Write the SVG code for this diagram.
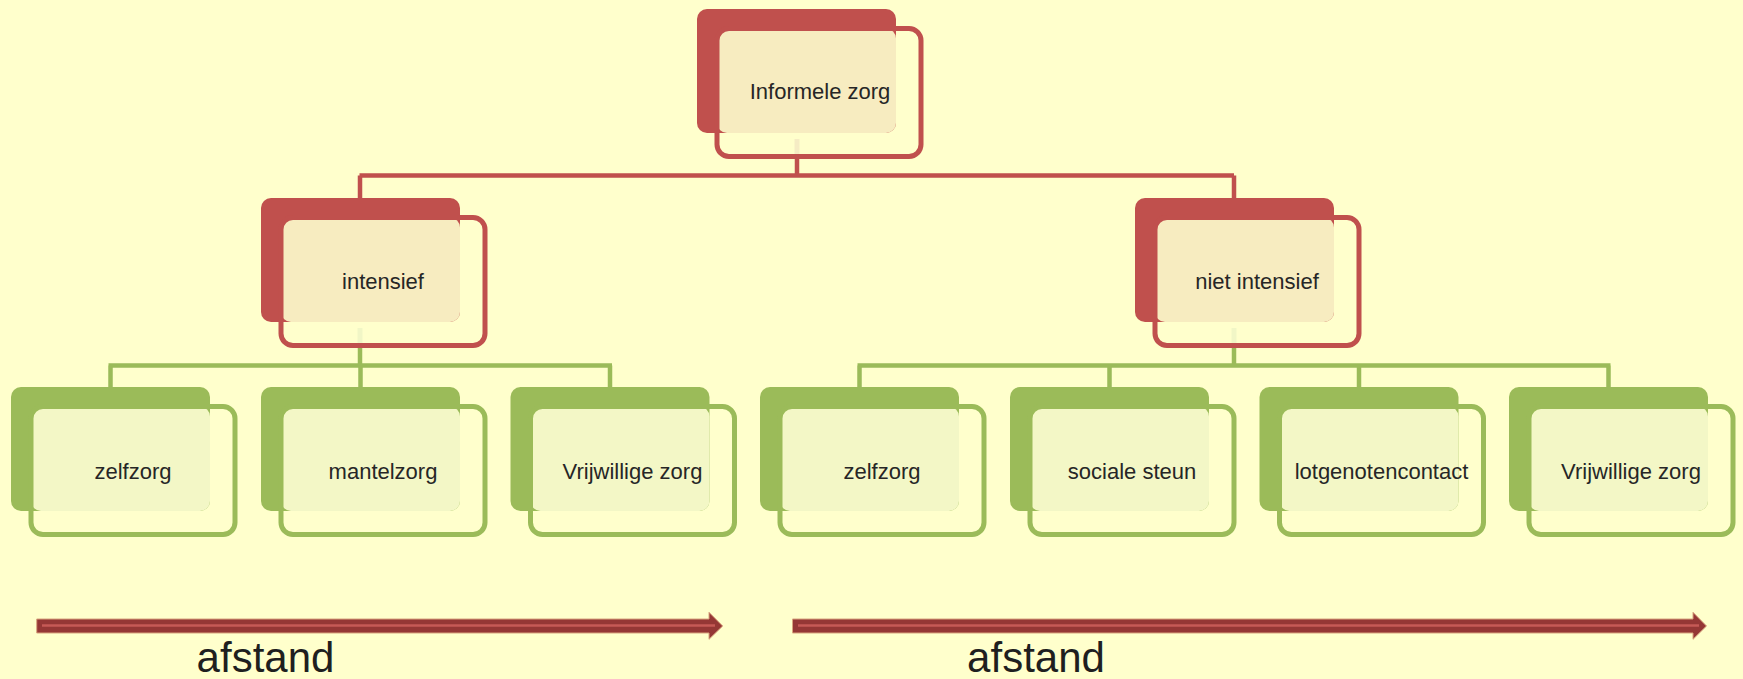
<svg xmlns="http://www.w3.org/2000/svg" width="1743" height="679" viewBox="0 0 1743 679">
<style>
.bg{fill:#ffffcc}
.red .back{fill:#c0504d}
.red .light{fill:#f7ecc0}
.red .front{fill:none;stroke:#c0504d;stroke-width:5}
.green .back{fill:#9bbb59}
.green .light{fill:#f3f7c6}
.green .front{fill:none;stroke:#9bbb59;stroke-width:5}
.lbl{font-family:"Liberation Sans",Arial,sans-serif;font-size:22px;fill:#262626;text-anchor:middle}
.big{font-family:"Liberation Sans",Arial,sans-serif;font-size:42px;fill:#1f1f1f;text-anchor:middle}
.cr{stroke:#c0504d;stroke-width:4.5;fill:none}
.cg{stroke:#9bbb59;stroke-width:4.5;fill:none}
.fr{stroke:#f5ecc4;stroke-width:5;fill:none}
.fg{stroke:#f1f6c6;stroke-width:5;fill:none}
.arrow{fill:#953735;stroke:#d9a47e;stroke-width:1}
.stripe{stroke:#c65a56;stroke-width:2.5}
</style>
<rect class="bg" x="0" y="0" width="1743" height="679"/>

<g id="connectors">
  <line class="fr" x1="797" y1="139" x2="797" y2="157"/>
  <path class="cr" d="M797,157 V175.5 M359.5,175.5 H1234 M360,175.5 V198 M1234,175.5 V198"/>
  <line class="fg" x1="360" y1="328" x2="360" y2="346"/>
  <line class="fg" x1="1234" y1="328" x2="1234" y2="346"/>
  <path class="cg" d="M360,346 V365.5 M108.5,365.5 H612 M110.5,365.5 V387 M360.5,365.5 V387 M610,365.5 V387"/>
  <path class="cg" d="M1234,346 V365.5 M857.5,365.5 H1610.5 M859.5,365.5 V387 M1109.5,365.5 V387 M1359,365.5 V387 M1608.5,365.5 V387"/>
</g>

<g id="n-informele-zorg" class="red">
  <rect class="back" x="697" y="9" width="199" height="124" rx="10"/>
  <rect class="light" x="717" y="28.5" width="179" height="104.5" rx="10"/>
  <rect class="front" x="717" y="28.5" width="204" height="128" rx="12"/>
  <text class="lbl" x="820" y="99">Informele zorg</text>
</g>
<g id="n-intensief" class="red">
  <rect class="back" x="261" y="198" width="199" height="124" rx="10"/>
  <rect class="light" x="281" y="217.5" width="179" height="104.5" rx="10"/>
  <rect class="front" x="281" y="217.5" width="204" height="128" rx="12"/>
  <text class="lbl" x="383" y="289">intensief</text>
</g>
<g id="n-niet-intensief" class="red">
  <rect class="back" x="1135" y="198" width="199" height="124" rx="10"/>
  <rect class="light" x="1155" y="217.5" width="179" height="104.5" rx="10"/>
  <rect class="front" x="1155" y="217.5" width="204" height="128" rx="12"/>
  <text class="lbl" x="1257" y="288.5">niet intensief</text>
</g>

<g id="n-zelfzorg-1" class="green">
  <rect class="back" x="11" y="387" width="199" height="124" rx="10"/>
  <rect class="light" x="31" y="406.5" width="179" height="104.5" rx="10"/>
  <rect class="front" x="31" y="406.5" width="204" height="128" rx="12"/>
  <text class="lbl" x="133" y="478.5">zelfzorg</text>
</g>
<g id="n-mantelzorg" class="green">
  <rect class="back" x="261" y="387" width="199" height="124" rx="10"/>
  <rect class="light" x="281" y="406.5" width="179" height="104.5" rx="10"/>
  <rect class="front" x="281" y="406.5" width="204" height="128" rx="12"/>
  <text class="lbl" x="383" y="478.5">mantelzorg</text>
</g>
<g id="n-vrijwillige-zorg-1" class="green">
  <rect class="back" x="510.5" y="387" width="199" height="124" rx="10"/>
  <rect class="light" x="530.5" y="406.5" width="179" height="104.5" rx="10"/>
  <rect class="front" x="530.5" y="406.5" width="204" height="128" rx="12"/>
  <text class="lbl" x="632.5" y="478.5">Vrijwillige zorg</text>
</g>
<g id="n-zelfzorg-2" class="green">
  <rect class="back" x="760" y="387" width="199" height="124" rx="10"/>
  <rect class="light" x="780" y="406.5" width="179" height="104.5" rx="10"/>
  <rect class="front" x="780" y="406.5" width="204" height="128" rx="12"/>
  <text class="lbl" x="882" y="478.5">zelfzorg</text>
</g>
<g id="n-sociale-steun" class="green">
  <rect class="back" x="1010" y="387" width="199" height="124" rx="10"/>
  <rect class="light" x="1030" y="406.5" width="179" height="104.5" rx="10"/>
  <rect class="front" x="1030" y="406.5" width="204" height="128" rx="12"/>
  <text class="lbl" x="1132" y="478.5">sociale steun</text>
</g>
<g id="n-lotgenotencontact" class="green">
  <rect class="back" x="1259.5" y="387" width="199" height="124" rx="10"/>
  <rect class="light" x="1279.5" y="406.5" width="179" height="104.5" rx="10"/>
  <rect class="front" x="1279.5" y="406.5" width="204" height="128" rx="12"/>
  <text class="lbl" x="1381.5" y="478.5">lotgenotencontact</text>
</g>
<g id="n-vrijwillige-zorg-2" class="green">
  <rect class="back" x="1509" y="387" width="199" height="124" rx="10"/>
  <rect class="light" x="1529" y="406.5" width="179" height="104.5" rx="10"/>
  <rect class="front" x="1529" y="406.5" width="204" height="128" rx="12"/>
  <text class="lbl" x="1631" y="478.5">Vrijwillige zorg</text>
</g>

<g id="arrow-left">
  <path class="arrow" d="M36.7,619 H709 V612.3 L722.7,626 L709,639.3 V633 H36.7 Z"/>
  <line class="stripe" x1="42" y1="625.5" x2="715" y2="625.5"/>
  <text class="big" x="265.5" y="671.5">afstand</text>
</g>
<g id="arrow-right">
  <path class="arrow" d="M792.5,619 H1693 V612.3 L1706.5,626 L1693,639.3 V633 H792.5 Z"/>
  <line class="stripe" x1="798" y1="625.5" x2="1699" y2="625.5"/>
  <text class="big" x="1036" y="671.5">afstand</text>
</g>
</svg>
